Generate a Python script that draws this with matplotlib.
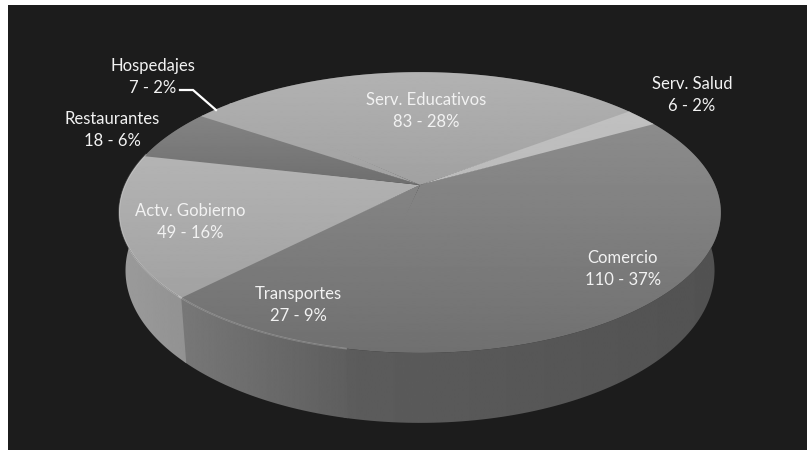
import numpy as np
import matplotlib
matplotlib.use('Agg')
import matplotlib.pyplot as plt
from matplotlib.patches import Polygon, Rectangle

#datos
sectores = ['Comercio', 'Transportes', 'Actv. Gobierno', 'Restaurantes', 'Hospedajes', 'Serv. Educativos', 'Serv. Salud']
valores = [110, 27, 49, 18, 7, 83, 6]

#posicion de las etiquetas (pixeles)
etiqueta_x = [623, 298, 190, 112, 153, 426, 692]
etiqueta_y = [269, 305, 222, 130, 77, 111, 95]

#grises: cara superior (arriba, abajo), lado (izq, der) y brillo del borde
gris_sup = [(146, 112), (146, 112), (190, 155), (145, 60), (178, 136), (178, 136), (195, 175)]
gris_lado = [(92, 82), (120, 94), (155, 146), (90, 90), (90, 90), (90, 90), (90, 90)]
brillo = [0, 0.22, 0.22, 0, 0, 0, 0]

#geometria de la proyeccion
cx, cy = 420, 185
W, s, g = 295, 135, 0.196
angulo_ini = 30
fondo = '#1c1c1c'


def proyecta(theta):
    u = np.cos(theta)
    v = np.sin(theta)
    d = 1 + g*v
    return cx + W*u/d, cy - s*v/d


def base(x, y):
    return 421 + 0.979*(x-421), 270 + 1.085*(y-212)


def degradado(ax, poly, g1, g2, vertical=True):
    if vertical:
        datos = np.linspace(g1, g2, 256).reshape(-1, 1)
        ext = (0, 807, 353, 72)
    else:
        datos = np.linspace(g1, g2, 256).reshape(1, -1)
        xs = poly.get_xy()[:, 0]
        ext = (xs.min(), xs.max(), 450, 0)
    im = ax.imshow(datos, extent=ext, cmap='gray', vmin=0, vmax=255, aspect='auto',
                   interpolation='bilinear', zorder=poly.get_zorder())
    ax.add_patch(poly)
    poly.set_visible(False)
    im.set_clip_path(poly)


fig = plt.figure(figsize=(8.07, 4.5), dpi=100, facecolor='white')
ax = fig.add_axes([0, 0, 1, 1])
ax.add_patch(Rectangle((8, 5), 799, 445, facecolor=fondo, edgecolor='none', zorder=0))

total = sum(valores)
bordes = np.radians(angulo_ini - np.cumsum([0] + valores)*360/total)
solape = 0.006  #para que no se note la costura entre sectores

#lados
for i in range(len(valores)):
    t = np.linspace(bordes[i]+solape, bordes[i+1]-solape, 120)
    x, y = proyecta(t)
    xb, yb = base(x, y)
    pts = np.column_stack([np.r_[x, xb[::-1]], np.r_[y, yb[::-1]]])
    degradado(ax, Polygon(pts, closed=True, zorder=1+i*0.01), gris_lado[i][0], gris_lado[i][1], vertical=False)

#cara superior
for i in range(len(valores)):
    t = np.linspace(bordes[i]+solape, bordes[i+1]-solape, 120)
    x, y = proyecta(t)
    pts = np.column_stack([np.r_[cx, x], np.r_[cy, y]])
    degradado(ax, Polygon(pts, closed=True, zorder=2+i*0.01), gris_sup[i][0], gris_sup[i][1])
    if brillo[i] > 0:
        ax.plot(x, y, color='white', alpha=brillo[i], lw=1.2, zorder=3)

#etiquetas
for i in range(len(valores)):
    pct = round(valores[i]/total*100)
    ax.text(etiqueta_x[i], etiqueta_y[i], f'{sectores[i]}\n{valores[i]} - {pct}%', color='#f2f2f2',
            ha='center', va='center', fontsize=12, family='Lato', linespacing=1.5, zorder=5)

#linea guia de Hospedajes
ax.plot([180, 193, 216], [90, 90, 110], color='white', lw=1.6, zorder=4, solid_joinstyle='miter')

ax.set_xlim(0, 807)
ax.set_ylim(450, 0)
ax.axis('off')
plt.savefig('out.png', dpi=100, facecolor='white')
